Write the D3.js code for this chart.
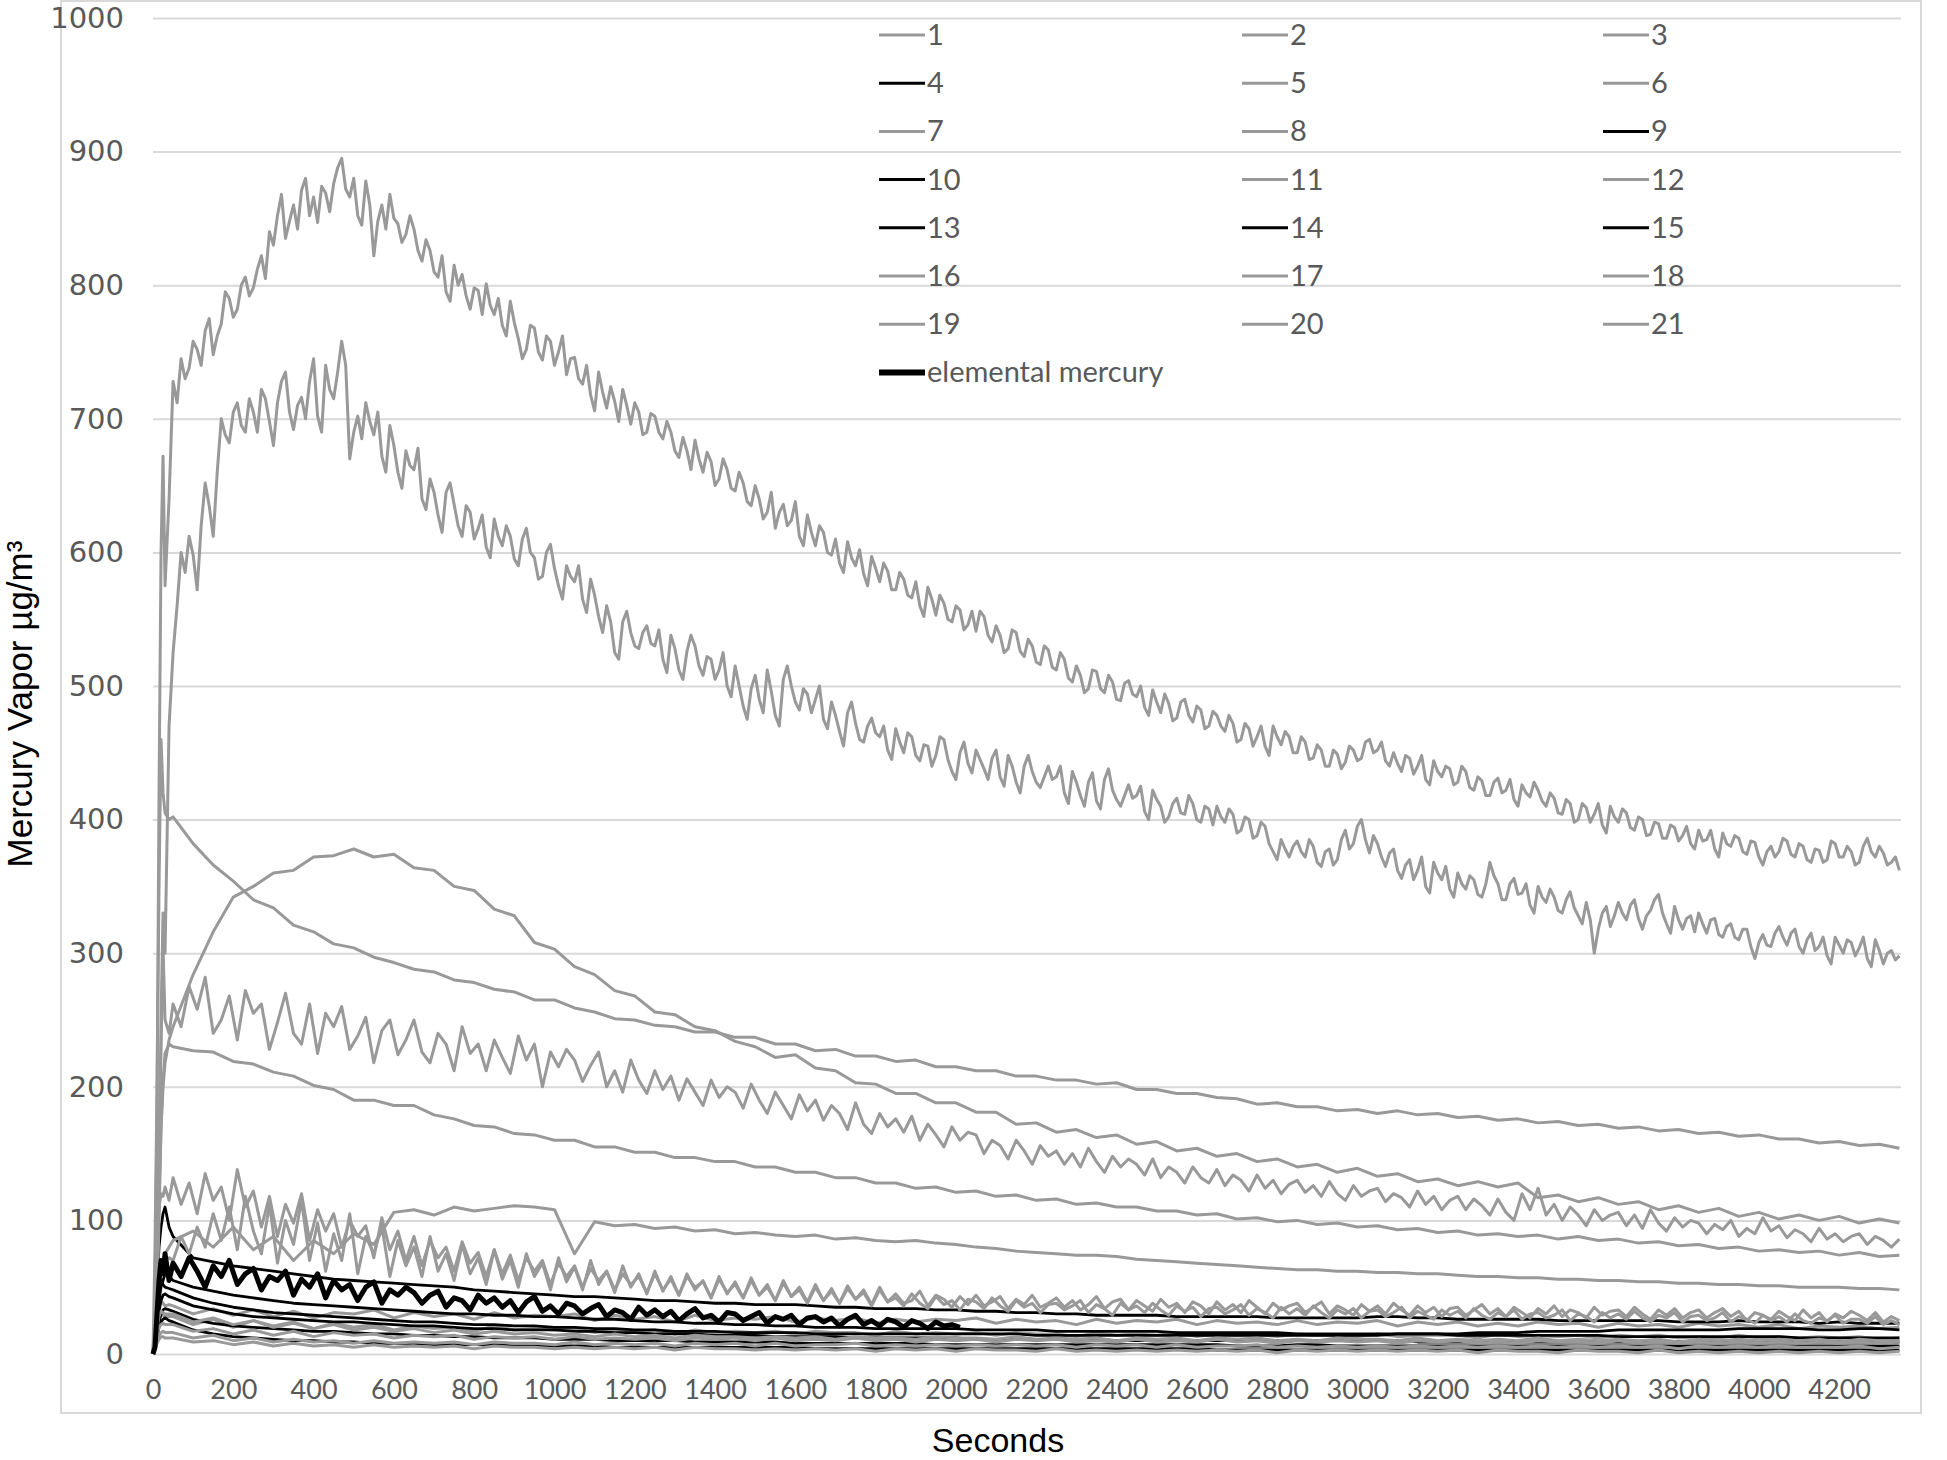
<!DOCTYPE html>
<html>
<head>
<meta charset="utf-8">
<script src="https://cdn.jsdelivr.net/npm/d3@7"></script>
<style>
  body { margin: 0; background: #fff; }
</style>
</head>
<body>
<div id="chart-area"></div>
<script>
const WIDTH = 1947
const HEIGHT = 1460
const PLOT = { LEFT: 153, RIGHT: 1901, TOP: 18, BOTTOM: 1354 }

// seconds at which values were read: first 40 s finely, then regular steps
const headSec = [0, 5, 10, 15, 20, 25, 30, 40]
const denseSec = headSec.concat(d3.range(50, 4351, 10))
const fineSec = headSec.concat(d3.range(50, 4351, 20))
const coarseSec = headSec.concat(d3.range(50, 4351, 50))

const xTicks = d3.range(0, 4201, 200)
const yTicks = d3.range(0, 1001, 100)

const seriesNames = ["1","2","3","4","5","6","7","8","9","10","11","12","13","14","15","16","17","18","19","20","21","elemental mercury"]

// ---- series values (µg/m³) ----
const s1 = [0, 10, 25, 35, 40, 38, 36, 37,
  36, 30, 34, 29, 33, 28, 32, 27, 31, 30,
  33, 27, 31, 28, 30, 26, 31, 27, 29, 28,
  30, 25, 29, 26, 28, 24, 29, 25, 27, 26,
  28, 24, 27, 25, 27, 23, 26, 24, 26, 25,
  27, 23, 26, 24, 25, 22, 26, 23, 25, 24,
  26, 22, 25, 23, 24, 22, 25, 22, 24, 23,
  25, 21, 24, 22, 24, 21, 23, 21, 24, 22,
  23, 20, 23, 21, 22, 20, 23, 21, 22, 20,
  22, 19, 21, 20, 21, 19, 20]

// 10 s steps
const s2 = [0, 40, 180, 420, 600, 672, 575, 640,
  728, 712, 745, 730, 738, 758, 752, 740, 766, 775, 748, 762, 771, 795, 790, 776, 782, 800, 806, 792,
  798, 812, 822, 805, 840, 830, 852, 868, 835, 848, 860, 842, 871, 880, 852, 866, 847, 874, 869, 855,
  876, 888, 895, 872, 866, 880, 852, 845, 878, 860, 822, 848, 860, 842, 868, 850, 846, 832, 838, 852,
  842, 826, 818, 834, 826, 810, 806, 822, 795, 788, 815, 800, 808, 792, 782, 798, 796, 778, 801, 785,
  778, 790, 770, 762, 788, 772, 760, 745, 752, 770, 768, 750, 744, 762, 758, 740, 750, 762, 733, 745,
  746, 730, 726, 740, 718, 706, 735, 720, 708, 724, 713, 698, 722, 710, 696, 712, 705, 688, 690, 704,
  702, 690, 685, 698, 690, 676, 671, 686, 676, 662, 684, 670, 660, 675, 668, 650, 655, 670, 662, 648,
  646, 660, 652, 638, 635, 650, 640, 625, 630, 645, 618, 630, 636, 620, 624, 638, 612, 605, 628, 615,
  605, 620, 615, 600, 598, 610, 592, 585, 608, 596, 590, 602, 584, 575, 597, 588, 578, 592, 586, 572,
  572, 585, 580, 568, 566, 578, 560, 552, 574, 565, 553, 568, 562, 550, 548, 560, 557, 542, 546, 556,
  541, 556, 552, 538, 533, 545, 538, 525, 528, 542, 540, 526, 522, 535, 530, 518, 516, 530, 527, 514,
  512, 525, 520, 506, 503, 515, 508, 495, 498, 512, 511, 498, 495, 508, 503, 490, 489, 502, 504, 494,
  492, 500, 484, 478, 497, 488, 480, 494, 487, 474, 476, 488, 490, 478, 473, 485, 482, 468, 470, 481,
  478, 470, 466, 478, 472, 458, 460, 472, 468, 455, 462, 470, 455, 448, 470, 462, 456, 466, 462, 450,
  450, 462, 458, 445, 446, 456, 452, 440, 440, 452, 449, 438, 443, 455, 452, 444, 446, 458, 460, 450,
  452, 458, 444, 440, 450, 442, 436, 448, 446, 434, 440, 448, 430, 426, 444, 436, 432, 440, 438, 426,
  428, 440, 436, 424, 422, 432, 429, 418, 418, 428, 431, 420, 422, 430, 415, 410, 426, 420, 417, 428,
  422, 414, 410, 420, 416, 405, 404, 415, 412, 398, 400, 412, 409, 398, 404, 412, 396, 390, 410, 402,
  398, 408, 405, 394, 392, 402, 400, 388, 389, 398, 397, 386, 386, 396, 394, 384, 388, 395, 382, 378,
  392, 384, 385, 392, 378, 372, 390, 382, 380, 388, 386, 376, 374, 384, 383, 372, 366, 376, 380, 372,
  376, 386, 384, 374, 372, 382, 380, 370, 368, 378, 377, 368, 370, 384, 382, 372, 372, 380, 376, 366,
  368, 380, 386, 376, 372, 380, 375, 366, 368, 372, 362]

const s3 = [0, 80, 200, 350, 460, 420, 405, 400,
  402, 382, 366, 354, 340, 334, 321, 316, 307, 304,
  297, 293, 288, 286, 280, 278, 273, 271, 265, 265,
  259, 256, 251, 250, 246, 245, 241, 241, 237, 237,
  232, 232, 227, 228, 223, 223, 219, 220, 215, 215,
  212, 212, 208, 208, 205, 205, 202, 203, 198, 198,
  195, 195, 192, 191, 187, 188, 185, 185, 182, 183,
  180, 182, 179, 180, 177, 178, 175, 176, 173, 174,
  171, 172, 169, 170, 167, 168, 165, 166, 163, 164,
  161, 161, 158, 159, 156, 157, 154]

const s4 = [0, 20, 50, 80, 95, 105, 110, 95,
  88, 72, 69, 66, 64, 62, 60, 58, 56, 55,
  54, 53, 52, 51, 50, 48, 47, 46, 45, 44,
  43, 43, 42, 41, 40, 40, 39, 38, 38, 37,
  37, 37, 36, 35, 35, 34, 34, 34, 33, 33,
  32, 32, 31, 31, 30, 30, 29, 29, 29, 29,
  28, 28, 28, 28, 28, 27, 27, 27, 27, 27,
  28, 28, 27, 27, 26, 26, 26, 26, 26, 25,
  25, 25, 25, 25, 25, 24, 24, 24, 25, 24,
  24, 24, 23, 24, 23, 23, 23]

const s5 = [0, 10, 30, 50, 60, 70, 75, 80,
  85, 92, 80, 95, 78, 88, 70, 85, 75, 90,
  82, 106, 108, 104, 110, 107, 109, 111, 110, 108,
  75, 99, 96, 97, 94, 95, 92, 93, 90, 91,
  89, 88, 89, 86, 87, 85, 84, 85, 83, 82,
  80, 79, 77, 76, 75, 74, 74, 73, 71, 70,
  69, 68, 67, 66, 65, 64, 63, 63, 62, 62,
  61, 61, 60, 60, 59, 58, 58, 57, 57, 56,
  56, 55, 55, 54, 54, 53, 53, 52, 52, 51,
  51, 50, 50, 50, 49, 49, 48]

const s6 = [0, 30, 90, 160, 230, 305, 250, 240,
  262, 245, 275, 258, 282, 240, 250, 268, 235, 272,
  255, 262, 228, 248, 270, 240, 232, 262, 225, 255,
  245, 260, 228, 238, 252, 218, 242, 250, 224, 235,
  250, 226, 218, 240, 232, 212, 245, 225, 232, 212,
  235, 222, 210, 238, 220, 232, 200, 226, 215, 228,
  220, 204, 216, 226, 200, 212, 196, 220, 205, 195,
  212, 198, 208, 190, 206, 196, 186, 205, 192, 200,
  196, 184, 202, 190, 180, 196, 186, 176, 194, 182,
  190, 175, 186, 180, 168, 188, 172, 165, 180, 170,
  176, 166, 178, 160, 172, 164, 155, 170, 160, 166,
  164, 150, 160, 156, 146, 160, 152, 142, 156, 148,
  152, 142, 150, 140, 154, 144, 136, 148, 140, 146,
  142, 134, 146, 132, 140, 136, 128, 140, 132, 128,
  138, 126, 134, 130, 122, 134, 124, 130, 120, 127,
  130, 121, 126, 118, 129, 120, 115, 126, 118, 122,
  124, 114, 120, 117, 110, 122, 112, 118, 108, 115,
  118, 108, 116, 111, 104, 116, 106, 100, 120, 108,
  124, 104, 112, 100, 110, 104, 96, 108, 100, 104,
  106, 96, 104, 94, 108, 98, 92, 102, 95, 100,
  98, 90, 97, 93, 100, 88, 94, 90, 102, 92,
  96, 87, 93, 90, 84, 94, 86, 90, 84, 88,
  90, 82, 88, 85, 80, 86]

const s7 = [0, 8, 18, 25, 30, 29, 28, 28,
  28, 22, 26, 20, 25, 21, 24, 19, 23, 20,
  22, 18, 21, 19, 20, 17, 21, 18, 19, 18,
  19, 16, 18, 17, 18, 15, 18, 16, 17, 16,
  17, 15, 17, 16, 16, 14, 17, 15, 16, 15,
  16, 14, 16, 15, 15, 13, 16, 14, 15, 14,
  16, 13, 15, 14, 15, 13, 15, 14, 14, 13,
  15, 13, 14, 14, 14, 12, 15, 13, 14, 13,
  14, 12, 14, 13, 14, 12, 13, 12, 14, 12,
  13, 12, 13, 12, 13, 11, 12]

const s8 = [0, 20, 60, 120, 170, 200, 218, 235,
  245, 284, 316, 342, 350, 360, 362, 372, 373, 378,
  372, 374, 364, 362, 350, 347, 333, 328, 308, 303,
  290, 284, 272, 268, 256, 254, 245, 242, 234, 230,
  222, 224, 214, 212, 203, 202, 195, 195, 188, 188,
  181, 181, 172, 173, 166, 168, 162, 164, 157, 159,
  152, 154, 148, 150, 144, 146, 140, 142, 136, 139,
  133, 135, 129, 131, 126, 129, 125, 128, 117, 119,
  114, 117, 112, 114, 108, 111, 106, 109, 103, 106,
  101, 104, 100, 103, 98, 101, 98]

const s9 = [0, 10, 25, 40, 50, 55, 60, 58,
  55, 50, 47, 44, 42, 40, 38, 37, 36, 35,
  34, 33, 32, 31, 30, 30, 29, 29, 28, 28,
  27, 26, 26, 25, 24, 24, 23, 23, 22, 22,
  21, 21, 20, 20, 20, 19, 19, 19, 19, 19,
  18, 18, 18, 18, 17, 17, 17, 17, 17, 17,
  16, 16, 16, 16, 16, 16, 15, 15, 15, 15,
  15, 15, 15, 15, 14, 14, 14, 14, 14, 14,
  14, 14, 13, 13, 13, 13, 13, 13, 13, 13,
  13, 12, 12, 12, 12, 12, 12]

const s10 = [0, 8, 20, 32, 40, 44, 45, 43,
  42, 36, 33, 30, 28, 27, 26, 25, 24, 24,
  23, 22, 21, 21, 20, 19, 19, 18, 18, 18,
  17, 17, 16, 16, 15, 15, 15, 14, 14, 14,
  13, 13, 13, 13, 12, 12, 12, 12, 12, 12,
  11, 11, 11, 11, 11, 11, 11, 10, 10, 10,
  10, 10, 10, 10, 10, 10, 10, 10, 10, 10,
  10, 10, 9, 9, 9, 9, 9, 9, 9, 9,
  9, 9, 9, 9, 9, 9, 9, 9, 9, 9,
  9, 9, 9, 9, 9, 9, 9]

const s11 = [0, 15, 35, 50, 60, 65, 70, 72,
  70, 88, 75, 95, 80, 105, 85, 110, 78, 118,
  92, 75, 112, 68, 100, 82, 115, 70, 98, 62,
  90, 70, 105, 60, 88, 75, 96, 58, 85, 66,
  80, 58, 88, 62, 75, 55, 82, 60, 72, 52,
  78, 56, 70, 50, 75, 58, 68, 48, 72, 54,
  65, 48, 70, 52, 62, 46, 66, 50, 60, 45,
  62, 47, 58, 44, 60, 48, 55, 42, 58, 45,
  54, 42, 57, 44, 52, 40, 55, 43, 50, 39,
  52, 40, 49, 38, 51, 41, 48, 37, 50, 39,
  42, 36, 45, 38, 34, 43, 37, 40, 33, 41,
  39, 34, 42, 36, 32, 40, 35, 38, 31, 37,
  38, 33, 36, 40, 31, 37, 34, 29, 38, 33,
  36, 31, 38, 33, 29, 36, 32, 35, 28, 34,
  35, 30, 33, 37, 29, 34, 31, 27, 35, 30,
  34, 29, 36, 31, 27, 33, 30, 34, 27, 32,
  33, 28, 31, 35, 27, 32, 29, 26, 33, 29,
  32, 27, 34, 29, 26, 31, 28, 33, 26, 30,
  31, 27, 29, 33, 25, 30, 28, 24, 31, 27,
  30, 26, 32, 27, 24, 29, 27, 31, 24, 28,
  29, 25, 27, 31, 24, 28, 26, 23, 29, 25,
  28, 24, 30, 25, 23, 27, 25, 29, 23, 26,
  26, 23, 28, 22, 25, 22]

// 10 s steps
const s12 = [0, 10, 40, 120, 250, 330, 300, 470,
  525, 560, 600, 585, 612, 598, 572, 620, 652, 635, 612, 660, 700, 688, 682, 705, 712, 695, 690, 715,
  705, 690, 722, 715, 698, 680, 712, 728, 735, 705, 692, 710, 716, 700, 728, 745, 702, 690, 740, 722,
  715, 735, 758, 740, 670, 690, 702, 685, 712, 698, 688, 705, 672, 660, 695, 680, 660, 648, 676, 665,
  662, 678, 640, 632, 655, 645, 628, 615, 645, 652, 636, 620, 612, 635, 630, 610, 618, 628, 604, 596,
  625, 612, 605, 620, 612, 595, 590, 610, 618, 600, 596, 580, 582, 600, 606, 588, 575, 565, 590, 582,
  578, 590, 565, 555, 580, 568, 552, 540, 560, 548, 525, 520, 548, 556, 540, 530, 528, 540, 545, 532,
  530, 542, 520, 510, 538, 528, 512, 505, 526, 538, 530, 515, 508, 522, 520, 505, 512, 525, 500, 492,
  515, 500, 485, 475, 498, 508, 490, 480, 512, 496, 478, 470, 505, 515, 500, 488, 482, 498, 494, 480,
  490, 500, 475, 468, 488, 478, 466, 455, 480, 488, 472, 460, 458, 470, 476, 465, 462, 470, 452, 445,
  468, 458, 450, 465, 462, 448, 444, 456, 455, 440, 448, 462, 460, 445, 436, 430, 450, 458, 442, 435,
  452, 445, 438, 430, 446, 452, 432, 425, 448, 440, 428, 420, 440, 448, 436, 428, 424, 432, 440, 430,
  432, 440, 420, 412, 436, 428, 418, 410, 428, 435, 414, 408, 430, 438, 422, 415, 410, 418, 426, 416,
  418, 425, 406, 400, 422, 415, 410, 398, 402, 412, 416, 405, 404, 418, 412, 400, 398, 410, 408, 396,
  410, 402, 398, 408, 404, 390, 392, 402, 400, 386, 388, 398, 395, 382, 376, 370, 385, 378, 372, 380,
  384, 376, 372, 385, 380, 368, 365, 376, 378, 366, 370, 385, 392, 378, 382, 395, 400, 385, 375, 388,
  382, 372, 365, 375, 378, 362, 356, 366, 370, 355, 362, 372, 350, 345, 368, 360, 355, 365, 348, 342,
  360, 352, 348, 358, 355, 344, 342, 352, 368, 358, 352, 340, 340, 352, 356, 344, 345, 352, 336, 330,
  350, 342, 338, 348, 342, 332, 330, 340, 346, 334, 328, 322, 338, 325, 300, 318, 330, 335, 320, 328,
  338, 330, 325, 336, 340, 326, 318, 328, 332, 340, 344, 330, 322, 315, 335, 325, 318, 326, 328, 316,
  330, 322, 315, 325, 326, 314, 312, 320, 322, 312, 310, 318, 318, 305, 296, 308, 314, 306, 305, 315,
  320, 312, 306, 315, 318, 305, 300, 310, 315, 302, 305, 312, 298, 292, 312, 306, 300, 310, 308, 298,
  304, 312, 296, 290, 310, 302, 292, 300, 302, 295, 298]

const s13 = [0, 6, 15, 24, 30, 33, 34, 33,
  32, 26, 23, 21, 20, 19, 18, 17, 17, 16,
  15, 15, 14, 14, 13, 13, 12, 12, 12, 11,
  11, 11, 10, 10, 10, 10, 9, 9, 9, 9,
  9, 8, 8, 8, 8, 8, 8, 8, 7, 7,
  7, 7, 7, 7, 7, 7, 7, 7, 7, 7,
  7, 7, 7, 6, 6, 6, 7, 7, 6, 6,
  6, 6, 6, 6, 6, 6, 6, 6, 6, 6,
  6, 6, 6, 6, 6, 6, 6, 6, 6, 6,
  6, 6, 6, 6, 6, 6, 6]

const s14 = [0, 5, 12, 20, 24, 26, 27, 25,
  24, 18, 15, 13, 12, 11, 10, 10, 9, 9,
  8, 8, 8, 7, 7, 7, 7, 6, 6, 6,
  6, 6, 5, 5, 5, 5, 5, 5, 5, 5,
  5, 5, 4, 4, 4, 4, 4, 4, 4, 4,
  4, 4, 4, 4, 4, 4, 4, 4, 4, 4,
  4, 4, 3, 3, 3, 3, 3, 3, 3, 3,
  3, 3, 3, 3, 3, 3, 3, 3, 3, 3,
  3, 3, 3, 3, 3, 3, 3, 3, 3, 3,
  3, 3, 3, 3, 3, 3, 3]

const s15 = [0, 12, 30, 45, 55, 52, 50, 49,
  48, 42, 38, 35, 33, 31, 30, 29, 28, 27,
  26, 25, 24, 24, 23, 22, 22, 21, 21, 20,
  20, 19, 19, 18, 18, 17, 17, 17, 16, 16,
  16, 16, 15, 15, 15, 15, 15, 15, 15, 15,
  15, 15, 15, 14, 14, 14, 14, 14, 14, 14,
  14, 14, 14, 14, 14, 14, 14, 14, 14, 14,
  14, 15, 15, 15, 15, 16, 16, 16, 17, 17,
  17, 17, 18, 18, 18, 18, 18, 18, 19, 19,
  19, 19, 18, 18, 19, 19, 18]

const s16 = [0, 10, 40, 100, 170, 205, 225, 232,
  230, 227, 226, 219, 217, 211, 208, 201, 198, 190,
  190, 186, 186, 179, 176, 171, 170, 165, 164, 160,
  160, 155, 155, 151, 151, 147, 147, 144, 144, 140,
  140, 136, 136, 132, 132, 128, 128, 124, 125, 121,
  122, 118, 119, 115, 116, 112, 113, 110, 110, 107,
  107, 104, 105, 101, 102, 99, 100, 97, 98, 95,
  96, 93, 94, 91, 92, 89, 90, 88, 89, 86,
  88, 85, 86, 83, 84, 81, 82, 79, 80, 77,
  78, 76, 77, 74, 76, 73, 74]

const s17 = [0, 30, 80, 110, 120, 118, 125, 115,
  132, 112, 128, 105, 135, 115, 125, 100, 138, 110,
  122, 95, 118, 88, 112, 98, 120, 85, 108, 92,
  105, 80, 100, 88, 96, 72, 102, 78, 92, 70,
  88, 66, 85, 72, 80, 62, 84, 68, 76, 58,
  78, 60, 74, 55, 72, 62, 70, 52, 68, 58,
  66, 50, 64, 55, 62, 48, 60, 52, 58, 46,
  60, 48, 56, 44, 58, 50, 54, 42, 56, 46,
  52, 42, 55, 44, 50, 40, 53, 43, 48, 38,
  50, 40, 47, 38, 49, 41, 46, 36, 48, 39,
  45, 38, 40, 47, 36, 44, 41, 35, 43, 37,
  44, 36, 39, 43, 34, 41, 37, 44, 35, 38,
  42, 35, 40, 33, 37, 43, 34, 39, 41, 33,
  40, 36, 32, 41, 35, 38, 31, 39, 36, 30,
  39, 33, 37, 31, 40, 35, 30, 38, 33, 36,
  38, 31, 35, 39, 30, 36, 33, 29, 37, 32,
  36, 30, 38, 33, 29, 36, 31, 35, 28, 34,
  35, 29, 33, 37, 30, 34, 28, 35, 31, 27,
  34, 30, 36, 28, 33, 31, 27, 35, 29, 32,
  33, 28, 35, 30, 26, 33, 29, 34, 27, 31,
  33, 27, 31, 34, 28, 32, 25, 31, 29, 26,
  32, 28, 25, 33, 27, 31, 24, 30, 27, 32,
  29, 25, 31, 24, 28, 25]

const s18 = [0, 6, 14, 20, 22, 23, 22, 22,
  22, 17, 19, 15, 18, 14, 17, 13, 16, 14,
  15, 12, 14, 13, 14, 11, 13, 12, 13, 11,
  13, 11, 12, 11, 12, 10, 12, 11, 12, 10,
  12, 10, 11, 10, 12, 10, 11, 9, 11, 10,
  11, 9, 11, 10, 11, 9, 10, 9, 11, 9,
  10, 9, 11, 9, 10, 8, 10, 9, 10, 9,
  10, 8, 10, 9, 10, 8, 9, 8, 10, 9,
  9, 8, 10, 8, 9, 8, 9, 8, 9, 8,
  9, 8, 9, 8, 9, 8, 9]

const s19 = [0, 5, 10, 14, 16, 17, 16, 16,
  16, 12, 14, 10, 12, 9, 11, 9, 10, 8,
  10, 8, 9, 8, 9, 7, 9, 8, 8, 7,
  9, 7, 8, 7, 8, 6, 8, 7, 8, 6,
  8, 6, 7, 7, 8, 6, 7, 6, 7, 6,
  7, 6, 7, 6, 7, 5, 7, 6, 7, 5,
  7, 5, 6, 6, 7, 5, 6, 5, 6, 5,
  6, 5, 6, 5, 6, 5, 6, 5, 6, 5,
  6, 5, 6, 5, 6, 4, 6, 5, 6, 5,
  6, 5, 5, 5, 6, 4, 5]

const s20 = [0, 4, 8, 11, 13, 13, 12, 12,
  12, 9, 10, 7, 9, 6, 8, 6, 7, 5,
  7, 5, 6, 5, 6, 4, 6, 5, 5, 4,
  5, 4, 5, 4, 5, 3, 5, 4, 4, 3,
  4, 3, 4, 3, 4, 2, 4, 3, 4, 2,
  4, 3, 3, 2, 4, 2, 3, 2, 3, 2,
  3, 2, 3, 2, 3, 1, 3, 2, 3, 2,
  3, 2, 3, 2, 3, 1, 3, 2, 2, 1,
  3, 2, 2, 1, 3, 1, 2, 1, 2, 1,
  2, 1, 2, 1, 2, 1, 2]

const s21 = [0, 8, 20, 28, 32, 31, 30, 30,
  30, 24, 27, 22, 25, 20, 23, 19, 22, 18,
  20, 17, 19, 16, 18, 15, 17, 15, 16, 14,
  15, 13, 15, 13, 14, 12, 14, 13, 13, 12,
  13, 12, 13, 11, 13, 12, 12, 11, 13, 12,
  12, 11, 13, 11, 12, 11, 12, 10, 12, 11,
  12, 10, 12, 11, 12, 10, 11, 10, 12, 11,
  11, 10, 12, 10, 11, 10, 11, 10, 12, 10,
  11, 10, 11, 10, 11, 9, 11, 10, 11, 10,
  11, 10, 11, 9, 11, 10, 10]

// elemental mercury, recorded up to ~2010 s
const sHg = [0, 5, 30, 55, 70, 60, 75, 55,
  68, 58, 72, 62, 50, 66, 58, 70, 52, 60,
  64, 48, 58, 55, 62, 44, 56, 50, 60, 42,
  55, 48, 52, 40, 50, 54, 38, 48, 44, 50,
  46, 38, 44, 47, 35, 42, 40, 33, 44, 38,
  42, 35, 40, 31, 39, 43, 32, 36, 30, 38,
  36, 30, 34, 37, 28, 33, 31, 26, 35, 29,
  33, 28, 32, 25, 30, 34, 27, 29, 24, 31,
  30, 25, 28, 31, 23, 28, 26, 29, 22, 27,
  28, 24, 27, 21, 26, 29, 22, 25, 21, 26,
  24, 20, 25, 23, 19, 24, 21, 22, 20]

const seriesValues = [s1, s2, s3, s4, s5, s6, s7, s8, s9, s10, s11, s12, s13, s14, s15, s16, s17, s18, s19, s20, s21, sHg]

// sampling step of each series
const denseSeries = ["2", "12"]
const fineSeries = ["6", "11", "17", "elemental mercury"]
const blackSeries = ["4", "9", "10", "13", "14", "15", "elemental mercury"]

const GREY = "#999999"
const svg = d3.select("#chart-area").append("svg")
  .attr("width", WIDTH)
  .attr("height", HEIGHT)
  .style("font-family", "Lato, 'Open Sans', sans-serif")

// chart frame
svg.append("rect")
  .attr("x", 61).attr("y", 1)
  .attr("width", 1860).attr("height", 1412)
  .attr("fill", "#fff")
  .attr("stroke", "#d9d9d9")
  .attr("stroke-width", 2)

const x = d3.scaleLinear().domain([0, 4354]).range([PLOT.LEFT, PLOT.RIGHT])
const y = d3.scaleLinear().domain([0, 1000]).range([PLOT.BOTTOM, PLOT.TOP])

// y axis + gridlines
const yAxis = svg.append("g")
  .attr("transform", `translate(${PLOT.LEFT}, 0)`)
  .call(d3.axisLeft(y).tickValues(yTicks).tickFormat(d3.format("d"))
    .tickSizeInner(-(PLOT.RIGHT - PLOT.LEFT)).tickSizeOuter(0).tickPadding(29))
yAxis.select(".domain").remove()
yAxis.selectAll("line").attr("stroke", "#d9d9d9").attr("stroke-width", 2)
yAxis.selectAll("text")
  .attr("fill", "#595959")
  .style("font-family", "'DejaVu Sans', Verdana, sans-serif")
  .style("font-size", "29px")

// x axis labels
const xAxis = svg.append("g")
  .attr("transform", `translate(0, ${PLOT.BOTTOM})`)
  .call(d3.axisBottom(x).tickValues(xTicks).tickFormat(d3.format("d")).tickSize(0).tickPadding(26))
xAxis.select(".domain").remove()
xAxis.selectAll("text")
  .attr("fill", "#595959")
  .style("font-family", "Lato, sans-serif")
  .style("font-size", "27px")

// lines
const line = d3.line()
  .x(d => x(d[0]))
  .y(d => y(d[1]))

const lines = svg.append("g")
seriesNames.forEach((name, i) => {
  const secs = denseSeries.includes(name) ? denseSec
    : fineSeries.includes(name) ? fineSec : coarseSec
  const pts = d3.zip(secs, seriesValues[i])
  const isBlack = blackSeries.includes(name)
  lines.append("path")
    .attr("d", line(pts))
    .attr("fill", "none")
    .attr("stroke", isBlack ? "#000" : GREY)
    .attr("stroke-width", name === "elemental mercury" ? 5 : (isBlack ? 2.8 : 3))
    .attr("stroke-linejoin", "round")
})

// legend, 3 columns
const legendCols = [879, 1242, 1603]
const legend = svg.append("g")
seriesNames.forEach((name, i) => {
  const col = name === "elemental mercury" ? 0 : i % 3
  const row = name === "elemental mercury" ? 7 : Math.floor(i / 3)
  const lx = legendCols[col]
  const ly = 35 + row * 48.2
  const isBlack = blackSeries.includes(name)
  legend.append("line")
    .attr("x1", lx).attr("x2", lx + 46)
    .attr("y1", ly).attr("y2", ly)
    .attr("stroke", isBlack ? "#000" : GREY)
    .attr("stroke-width", name === "elemental mercury" ? 6 : 3)
  legend.append("text")
    .attr("x", lx + 48)
    .attr("y", ly + 10)
    .attr("fill", "#595959")
    .style("font-size", "29px")
    .text(name)
})

// axis titles
svg.append("text")
  .attr("transform", "translate(32, 704) rotate(-90)")
  .attr("text-anchor", "middle")
  .style("font-family", "'Liberation Sans', Arial, sans-serif")
  .style("font-size", "35px")
  .attr("fill", "#000")
  .text("Mercury Vapor µg/m³")

svg.append("text")
  .attr("x", 998)
  .attr("y", 1452)
  .attr("text-anchor", "middle")
  .style("font-family", "'Liberation Sans', Arial, sans-serif")
  .style("font-size", "34px")
  .attr("fill", "#000")
  .text("Seconds")
</script>
</body>
</html>
